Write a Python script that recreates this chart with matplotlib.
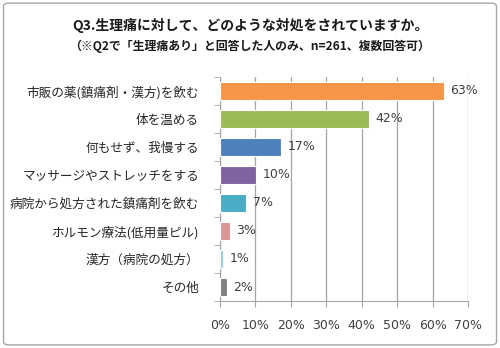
import matplotlib.pyplot as plt
from matplotlib.patches import FancyBboxPatch
import numpy as np

plt.rcParams['font.family'] = ['Noto Sans CJK JP', 'DejaVu Sans']

categories = [
    "市販の薬(鎮痛剤・漢方)を飲む",
    "体を温める",
    "何もせず、我慢する",
    "マッサージやストレッチをする",
    "病院から処方された鎮痛剤を飲む",
    "ホルモン療法(低用量ピル)",
    "漢方（病院の処方）",
    "その他",
]
values = [63.2, 42.1, 17.2, 10.3, 7.4, 2.8, 0.8, 1.9]
labels = ["63%", "42%", "17%", "10%", "7%", "3%", "1%", "2%"]
colors = ["#F79646", "#9BBB59", "#4F81BD", "#8064A2",
          "#4BACC6", "#DA9694", "#93CDDD", "#7F7F7F"]
xticks = [0, 10, 20, 30, 40, 50, 60, 70]

fig = plt.figure(figsize=(5.0, 3.48), dpi=100)

# outer rounded frame
frame = FancyBboxPatch((0.007, 0.009), 0.986, 0.982,
                       boxstyle="round,pad=0,rounding_size=0.01",
                       transform=fig.transFigure, facecolor="none",
                       edgecolor="#A6A6A6", linewidth=1.0, zorder=10)
fig.patches.append(frame)

fig.text(0.5, 0.928, "Q3.生理痛に対して、どのような対処をされていますか。",
         ha="center", va="center", fontsize=10, fontweight="bold", color="#1a1a1a")
fig.text(0.5, 0.868, "（※Q2で「生理痛あり」と回答した人のみ、n=261、複数回答可）",
         ha="center", va="center", fontsize=8.6, fontweight="bold", color="#1a1a1a")

ax = fig.add_axes([0.44, 0.135, 0.496, 0.644])
ax.set_facecolor("none")

y = np.arange(len(categories))
ax.barh(y, values, height=0.64, color=colors, edgecolor="white",
        linewidth=0.8, zorder=3)
for yi, v, lab in zip(y, values, labels):
    ax.text(v + 1.8, yi, lab, va="center", ha="left", fontsize=9,
            family="DejaVu Sans", color="#404040", zorder=4)

ax.set_xlim(0, 70)
ax.set_ylim(len(categories) - 0.5, -0.5)
ax.set_xticks(xticks)
ax.set_xticklabels([f"{t}%" for t in xticks], fontsize=9,
                   family="DejaVu Sans", color="#404040")
ax.set_yticks(y)
ax.set_yticklabels(categories, fontsize=9.1, color="#262626")
ax.set_yticks(np.arange(-0.5, len(categories), 1), minor=True)

ax.tick_params(axis="y", which="major", length=0, pad=15)
ax.tick_params(axis="y", which="minor", length=4, color="#A6A6A6")
ax.tick_params(axis="x", length=4, color="#A6A6A6", pad=9)

ax.grid(axis="x", color="#A6A6A6", linewidth=0.9, zorder=0)
ax.spines[["top"]].set_visible(False)
ax.spines["right"].set_visible(False)
for s in ["left", "bottom"]:
    ax.spines[s].set_color("#A6A6A6")

fig.savefig("out.png", dpi=100)
